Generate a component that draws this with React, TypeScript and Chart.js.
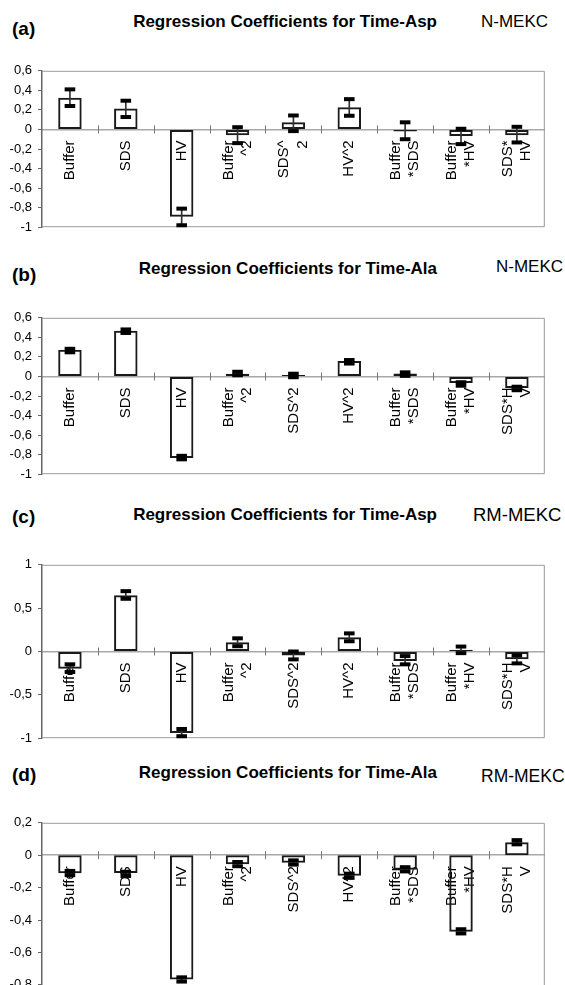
import React, { useEffect, useRef } from 'react';
import { Chart, registerables } from 'chart.js';

Chart.register(...registerables);

const FONT = '"Liberation Sans", Arial, Helvetica, sans-serif';

// ---------- category labels ----------
const labelsA = [['Buffer'], ['SDS'], ['HV'], ['Buffer', '^2'], ['SDS^', '2'], ['HV^2'], ['Buffer', '*SDS'], ['Buffer', '*HV'], ['SDS*', 'HV']];
const labelsB = [['Buffer'], ['SDS'], ['HV'], ['Buffer', '^2'], ['SDS^2'], ['HV^2'], ['Buffer', '*SDS'], ['Buffer', '*HV'], ['SDS*H', 'V']];
const labelsC = [['Buffer'], ['SDS'], ['HV'], ['Buffer', '^2'], ['SDS^2'], ['HV^2'], ['Buffer', '*SDS'], ['Buffer', '*HV'], ['SDS*H', 'V']];
const labelsD = [['Buffer'], ['SDS'], ['HV'], ['Buffer', '^2'], ['SDS^2'], ['HV^2'], ['Buffer', '*SDS'], ['Buffer', '*HV'], ['SDS*H', 'V']];

// ---------- (a) Time-Asp, N-MEKC ----------
const coefA = [0.325, 0.215, -0.893, -0.06, 0.073, 0.227, -0.02, -0.067, -0.06];
const lowA = [0.24, 0.127, -0.98, -0.14, -0.017, 0.14, -0.1, -0.15, -0.133];
const highA = [0.41, 0.294, -0.81, 0.023, 0.143, 0.31, 0.073, 0.007, 0.027];

// ---------- (b) Time-Ala, N-MEKC ----------
const coefB = [0.274, 0.467, -0.833, 0.027, 0.015, 0.157, 0.03, -0.067, -0.117];
const lowB = [0.247, 0.445, -0.848, 0.012, -0.008, 0.132, 0.006, -0.095, -0.141];
const highB = [0.283, 0.481, -0.812, 0.048, 0.028, 0.168, 0.042, -0.059, -0.105];

// ---------- (c) Time-Asp, RM-MEKC ----------
const coefC = [-0.198, 0.65, -0.94, 0.106, -0.046, 0.163, -0.11, 0.02, -0.09];
const lowC = [-0.236, 0.608, -0.977, 0.061, -0.091, 0.118, -0.148, -0.019, -0.137];
const highC = [-0.148, 0.696, -0.894, 0.152, 0.0, 0.209, -0.053, 0.057, -0.046];

// ---------- (d) Time-Ala, RM-MEKC ----------
const coefD = [-0.111, -0.11, -0.767, -0.056, -0.046, -0.127, -0.09, -0.473, 0.08];
const lowD = [-0.123, -0.128, -0.78, -0.068, -0.058, -0.14, -0.1, -0.483, 0.067];
const highD = [-0.097, -0.102, -0.754, -0.042, -0.032, -0.114, -0.074, -0.457, 0.093];

const fmt = (v: number) => String(Math.round(v * 10) / 10).replace('.', ',');

const framePlugin = {
  id: 'frame',
  beforeDatasetsDraw(chart: any) {
    const { ctx, chartArea: a, scales } = chart;
    ctx.save();
    ctx.strokeStyle = '#9a9a9a';
    ctx.lineWidth = 1;
    ctx.beginPath();
    ctx.moveTo(a.left, a.top + 0.5);
    ctx.lineTo(a.right - 0.5, a.top + 0.5);
    ctx.lineTo(a.right - 0.5, a.bottom - 0.5);
    ctx.lineTo(a.left, a.bottom - 0.5);
    ctx.stroke();
    // cross tick marks on the zero axis, between categories
    const xs = scales.x;
    const ys = scales.y;
    const y0 = ys.getPixelForValue(0);
    ctx.strokeStyle = '#777';
    ctx.beginPath();
    for (let i = 1; i < xs.ticks.length; i++) {
      const x = Math.round((xs.getPixelForValue(i - 1) + xs.getPixelForValue(i)) / 2) + 0.5;
      ctx.moveTo(x, y0 - 4);
      ctx.lineTo(x, y0 + 4);
    }
    ctx.stroke();
    ctx.restore();
  },
};

type PanelProps = {
  tag: string;
  title: string;
  method: string;
  labels: string[][];
  coef: number[];
  low: number[];
  high: number[];
  yMin: number;
  yMax: number;
  yStep: number;
  top: number;
  height: number;
  tagY: number;
  titleY: number;
  methodY: number;
  methodX: number;
  methodSize: number;
};

const LABEL_SIZE = 15;
const LABEL_LH = 1.22;

function Panel(p: PanelProps) {
  const ref = useRef<HTMLCanvasElement | null>(null);
  useEffect(() => {
    if (!ref.current) return;
    const marker = (data: number[]) => ({
      type: 'line' as const,
      data,
      showLine: false,
      pointStyle: 'line',
      pointRadius: 5.3,
      pointHoverRadius: 5.3,
      pointBorderWidth: 4,
      pointBorderColor: '#000',
      pointBackgroundColor: '#000',
      order: 0,
      clip: false,
    });
    const chart = new Chart(ref.current, {
      type: 'bar',
      data: {
        labels: p.labels,
        datasets: [
          marker(p.low) as any,
          marker(p.high) as any,
          {
            type: 'bar',
            data: p.low.map((l, i) => [l, p.high[i]]),
            backgroundColor: '#333',
            borderWidth: 0,
            barThickness: 1,
            grouped: false,
            order: 1,
          } as any,
          {
            type: 'bar',
            data: p.coef,
            backgroundColor: 'rgba(0,0,0,0)',
            borderColor: '#1a1a1a',
            borderWidth: 2,
            borderSkipped: false,
            grouped: false,
            categoryPercentage: 1,
            barPercentage: 0.42,
            order: 2,
          } as any,
        ],
      },
      options: {
        responsive: false,
        animation: false,
        devicePixelRatio: 1,
        layout: { padding: { top: 12, bottom: 12, left: 0, right: 3 } },
        plugins: {
          legend: { display: false },
          tooltip: { enabled: false },
          title: { display: false },
        },
        scales: {
          x: {
            type: 'category',
            position: { y: 0 } as any,
            offset: true,
            grid: { display: false, drawTicks: false },
            border: { display: true, color: '#a8a8a8', width: 1.5 },
            ticks: {
              autoSkip: false,
              minRotation: 90,
              maxRotation: 90,
              padding: 11,
              labelOffset: -(LABEL_SIZE * LABEL_LH) / 2,
              color: '#000',
              font: { family: FONT, size: LABEL_SIZE, lineHeight: LABEL_LH },
              showLabelBackdrop: ((c: any) => !(c.tick && Array.isArray(c.tick.label) && c.tick.label.length > 1)) as any,
              backdropColor: 'rgba(0,0,0,0)',
            },
          },
          y: {
            min: p.yMin,
            max: p.yMax,
            afterFit: (s: any) => {
              s.width = 42;
            },
            grid: { drawOnChartArea: false, drawTicks: true, tickLength: 4, color: '#666' },
            border: { display: true, color: '#666', width: 1.5 },
            ticks: {
              stepSize: p.yStep,
              padding: 6,
              color: '#000',
              font: { family: FONT, size: 13 },
              callback: (v: any) => fmt(Number(v)),
            },
          },
        },
      } as any,
      plugins: [framePlugin],
    });
    return () => chart.destroy();
  }, []);

  const textBase: React.CSSProperties = {
    position: 'absolute',
    fontFamily: FONT,
    color: '#000',
    whiteSpace: 'nowrap',
    lineHeight: '20px',
    height: 20,
  };

  return (
    <>
      <div style={{ ...textBase, left: 12, top: p.tagY - 10, fontSize: 19, fontWeight: 'bold' }}>{p.tag}</div>
      <div style={{ ...textBase, right: 565 - 437, top: p.titleY - 10, fontSize: 17, fontWeight: 'bold' }}>{p.title}</div>
      <div style={{ ...textBase, left: p.methodX, top: p.methodY - 10, fontSize: p.methodSize }}>{p.method}</div>
      <canvas
        ref={ref}
        width={565}
        height={p.height}
        style={{ position: 'absolute', left: 0, top: p.top, width: 565, height: p.height }}
      />
    </>
  );
}

export default function App() {
  return (
    <div
      style={{
        position: 'fixed',
        left: 0,
        top: 0,
        width: 565,
        height: 985,
        overflow: 'hidden',
        background: '#fff',
      }}
    >
      <Panel
        tag="(a)"
        title="Regression Coefficients for Time-Asp"
        method="N-MEKC"
        labels={labelsA}
        coef={coefA}
        low={lowA}
        high={highA}
        yMin={-1}
        yMax={0.6}
        yStep={0.2}
        top={57}
        height={184}
        tagY={29}
        titleY={22}
        methodY={22}
        methodX={481}
        methodSize={17}
      />
      <Panel
        tag="(b)"
        title="Regression Coefficients for Time-Ala"
        method="N-MEKC"
        labels={labelsB}
        coef={coefB}
        low={lowB}
        high={highB}
        yMin={-1}
        yMax={0.6}
        yStep={0.2}
        top={304}
        height={184}
        tagY={275}
        titleY={269}
        methodY={267}
        methodX={496}
        methodSize={17}
      />
      <Panel
        tag="(c)"
        title="Regression Coefficients for Time-Asp"
        method="RM-MEKC"
        labels={labelsC}
        coef={coefC}
        low={lowC}
        high={highC}
        yMin={-1}
        yMax={1}
        yStep={0.5}
        top={551}
        height={201}
        tagY={517}
        titleY={515}
        methodY={515}
        methodX={473}
        methodSize={18.5}
      />
      <Panel
        tag="(d)"
        title="Regression Coefficients for Time-Ala"
        method="RM-MEKC"
        labels={labelsD}
        coef={coefD}
        low={lowD}
        high={highD}
        yMin={-1}
        yMax={0.2}
        yStep={0.2}
        top={809}
        height={222}
        tagY={775}
        titleY={773}
        methodY={776}
        methodX={481}
        methodSize={17.5}
      />
    </div>
  );
}
